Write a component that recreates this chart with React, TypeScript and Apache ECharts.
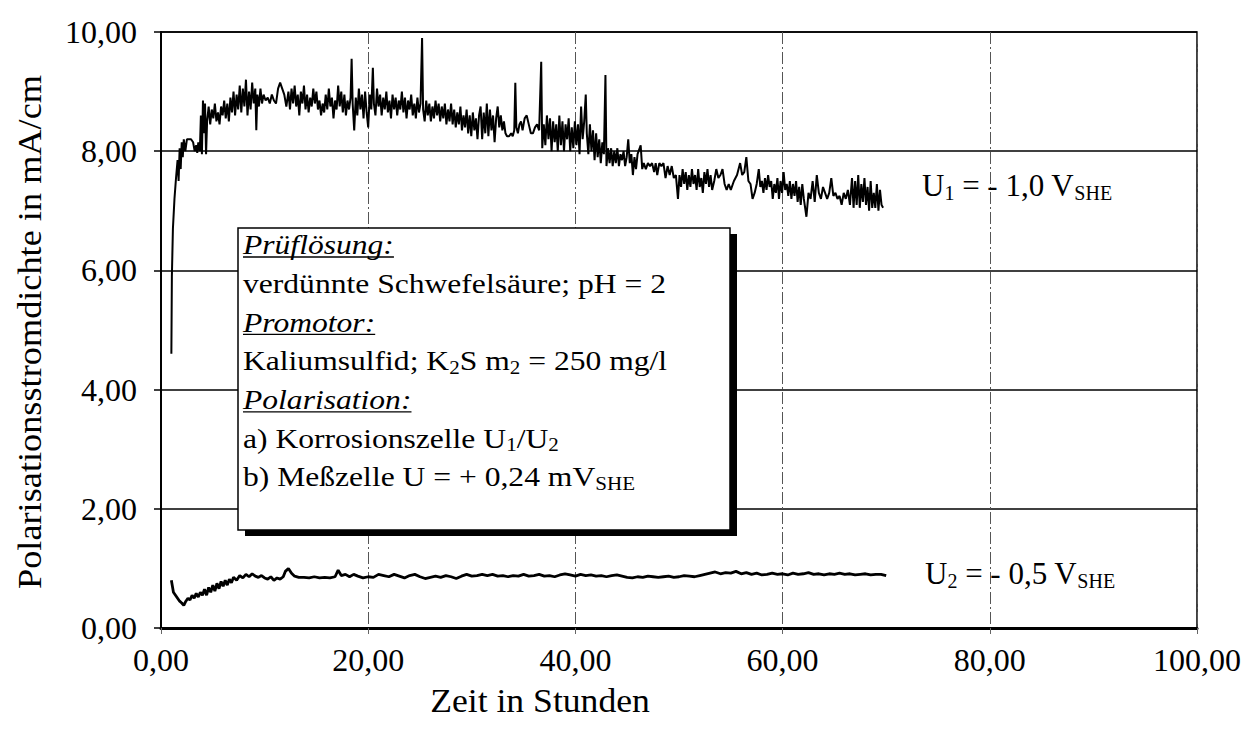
import React, { useEffect, useRef } from 'react';
import * as echarts from 'echarts';

const SERIF = 'Liberation Serif';

const xTickValues = [0, 20, 40, 60, 80, 100];
const yTickValues = [0, 2, 4, 6, 8, 10];

// U1 = -1,0 V_SHE  [Zeit in Stunden, Polarisationsstromdichte]
const u1Points: [number, number][] = [
  [1.0, 4.6], [1.05, 5.9], [1.15, 6.7], [1.3, 7.2], [1.45, 7.55], [1.6, 7.85], [1.7, 7.5], [1.8, 8.05], [1.9, 7.7],
  [2.0, 8.15], [2.1, 7.9], [2.2, 8.2], [2.35, 8.0], [2.5, 8.2], [2.7, 8.2], [2.9, 8.2], [3.1, 8.15], [3.25, 8.0],
  [3.4, 8.1], [3.5, 7.97], [3.6, 8.15], [3.75, 8.0], [3.85, 8.6], [3.95, 7.95], [4.05, 8.85], [4.15, 8.3], [4.25, 8.8],
  [4.35, 7.95], [4.45, 8.5], [4.6, 8.75], [4.75, 8.45], [4.9, 8.7], [5.05, 8.55], [5.2, 8.8], [5.35, 8.5], [5.5, 8.65],
  [5.65, 8.45], [5.8, 8.75], [5.95, 8.6], [6.1, 8.85], [6.25, 8.55], [6.4, 8.8], [6.55, 8.5], [6.7, 8.9], [6.85, 8.65],
  [7.0, 9.0], [7.15, 8.6], [7.3, 8.95], [7.45, 8.7], [7.6, 9.1], [7.75, 8.65], [7.9, 9.05], [8.05, 8.75], [8.2, 9.2],
  [8.35, 8.6], [8.5, 9.0], [8.65, 8.7], [8.8, 9.15], [8.95, 8.8], [9.1, 9.05], [9.2, 8.35], [9.3, 8.95], [9.45, 8.75],
  [9.6, 9.05], [9.75, 8.8], [9.9, 8.95], [10.1, 8.85], [10.3, 8.9], [10.5, 8.8], [10.7, 8.95], [10.9, 8.85], [11.1, 8.8],
  [11.3, 9.05], [11.5, 9.15], [11.7, 9.05], [11.9, 8.95], [12.1, 8.75], [12.3, 9.0], [12.45, 8.7], [12.6, 9.05],
  [12.75, 8.8], [12.9, 9.1], [13.05, 8.75], [13.2, 8.95], [13.35, 8.6], [13.5, 9.0], [13.65, 8.8], [13.8, 9.1],
  [13.95, 8.7], [14.1, 8.95], [14.25, 8.65], [14.4, 8.9], [14.55, 8.75], [14.7, 9.05], [14.85, 8.8], [15.0, 9.0],
  [15.15, 8.7], [15.3, 8.85], [15.45, 8.6], [15.6, 8.8], [15.75, 8.65], [15.9, 8.95], [16.05, 8.7], [16.2, 9.05],
  [16.35, 8.75], [16.5, 8.9], [16.65, 8.55], [16.8, 8.85], [16.95, 8.7], [17.1, 9.1], [17.25, 8.75], [17.4, 9.0],
  [17.55, 8.65], [17.7, 8.95], [17.85, 8.6], [18.0, 8.85], [18.15, 8.7], [18.3, 8.9], [18.4, 9.55], [18.5, 8.8],
  [18.65, 8.35], [18.8, 8.9], [18.95, 8.6], [19.1, 9.05], [19.25, 8.7], [19.4, 8.95], [19.55, 8.55], [19.7, 9.0],
  [19.85, 8.65], [20.0, 8.4], [20.15, 8.95], [20.3, 8.7], [20.45, 9.4], [20.55, 8.8], [20.7, 8.6], [20.85, 9.05],
  [21.0, 8.75], [21.15, 8.95], [21.3, 8.6], [21.45, 8.9], [21.6, 8.7], [21.75, 9.0], [21.9, 8.65], [22.05, 8.85],
  [22.2, 8.55], [22.35, 8.95], [22.5, 8.7], [22.65, 8.9], [22.8, 8.6], [22.95, 8.85], [23.1, 8.7], [23.25, 9.0],
  [23.4, 8.65], [23.55, 8.9], [23.7, 8.55], [23.85, 8.85], [24.0, 8.7], [24.15, 8.95], [24.3, 8.6], [24.45, 8.8],
  [24.6, 8.55], [24.75, 8.9], [24.9, 8.65], [25.05, 8.8], [25.2, 9.9], [25.3, 8.7], [25.45, 8.5], [25.6, 8.85],
  [25.75, 8.6], [25.9, 8.8], [26.05, 8.5], [26.2, 8.75], [26.35, 8.55], [26.5, 8.85], [26.65, 8.6], [26.8, 8.8],
  [26.95, 8.5], [27.1, 8.75], [27.25, 8.55], [27.4, 8.8], [27.55, 8.45], [27.7, 8.7], [27.85, 8.5], [28.0, 8.8],
  [28.15, 8.45], [28.3, 8.7], [28.45, 8.4], [28.6, 8.65], [28.75, 8.45], [28.9, 8.75], [29.05, 8.35], [29.2, 8.6],
  [29.35, 8.4], [29.5, 8.7], [29.65, 8.3], [29.8, 8.6], [29.95, 8.25], [30.1, 8.65], [30.25, 8.35], [30.4, 8.55],
  [30.55, 8.2], [30.7, 8.6], [30.85, 8.75], [31.0, 8.2], [31.15, 8.65], [31.3, 8.3], [31.45, 8.8], [31.6, 8.25],
  [31.75, 8.7], [31.9, 8.35], [32.05, 8.6], [32.2, 8.15], [32.35, 8.55], [32.5, 8.75], [32.65, 8.4], [32.8, 8.6],
  [32.95, 8.35], [33.1, 8.5], [33.25, 8.3], [33.4, 8.25], [33.6, 8.25], [33.8, 8.3], [33.95, 8.25], [34.1, 8.35],
  [34.2, 9.15], [34.3, 8.4], [34.45, 8.3], [34.6, 8.45], [34.75, 8.5], [34.9, 8.35], [35.1, 8.55], [35.3, 8.6],
  [35.5, 8.45], [35.7, 8.3], [35.9, 8.3], [36.1, 8.4], [36.3, 8.45], [36.5, 8.35], [36.7, 9.5], [36.8, 8.05],
  [36.95, 8.45], [37.1, 8.1], [37.25, 8.6], [37.4, 8.2], [37.55, 8.55], [37.7, 8.0], [37.85, 8.5], [38.0, 8.15],
  [38.15, 8.45], [38.3, 8.0], [38.45, 8.6], [38.6, 8.1], [38.75, 8.5], [38.9, 8.0], [39.05, 8.45], [39.2, 8.2],
  [39.35, 8.55], [39.5, 8.0], [39.65, 8.4], [39.8, 8.05], [39.95, 8.5], [40.1, 8.1], [40.25, 8.45], [40.4, 7.95],
  [40.55, 8.75], [40.7, 8.2], [40.85, 8.5], [41.0, 8.95], [41.1, 8.3], [41.25, 7.95], [41.4, 8.45], [41.55, 8.0],
  [41.7, 8.35], [41.85, 7.85], [42.0, 8.3], [42.15, 7.9], [42.3, 8.2], [42.45, 7.8], [42.6, 8.15], [42.75, 7.95],
  [42.9, 9.28], [43.0, 7.75], [43.15, 8.05], [43.3, 7.8], [43.45, 8.05], [43.6, 7.75], [43.75, 8.0], [43.9, 7.8],
  [44.05, 8.05], [44.2, 7.75], [44.35, 7.95], [44.5, 7.85], [44.65, 8.0], [44.8, 7.75], [44.95, 7.9], [45.1, 8.2],
  [45.25, 7.8], [45.4, 7.95], [45.55, 7.6], [45.7, 7.9], [45.85, 7.7], [46.0, 7.95], [46.3, 8.1], [46.45, 7.7],
  [46.6, 7.8], [46.8, 7.7], [47.0, 7.8], [47.2, 7.75], [47.4, 7.8], [47.6, 7.65], [47.75, 7.8], [47.9, 7.6],
  [48.1, 7.8], [48.3, 7.75], [48.5, 7.8], [48.7, 7.55], [48.9, 7.75], [49.1, 7.6], [49.3, 7.75], [49.5, 7.55],
  [49.7, 7.6], [49.9, 7.2], [50.05, 7.6], [50.2, 7.4], [50.35, 7.7], [50.5, 7.45], [50.65, 7.65], [50.8, 7.35],
  [50.95, 7.6], [51.1, 7.4], [51.25, 7.7], [51.4, 7.45], [51.55, 7.6], [51.7, 7.35], [51.85, 7.7], [52.0, 7.4],
  [52.15, 7.55], [52.3, 7.3], [52.45, 7.65], [52.6, 7.45], [52.75, 7.7], [52.9, 7.4], [53.05, 7.6], [53.2, 7.35],
  [53.4, 7.5], [53.6, 7.7], [53.8, 7.55], [54.0, 7.6], [54.2, 7.7], [54.4, 7.45], [54.6, 7.35], [54.8, 7.45],
  [55.0, 7.35], [55.3, 7.5], [55.6, 7.6], [55.9, 7.8], [56.1, 7.6], [56.3, 7.65], [56.5, 7.9], [56.7, 7.5],
  [56.9, 7.45], [57.1, 7.2], [57.3, 7.3], [57.5, 7.45], [57.7, 7.7], [57.85, 7.4], [58.0, 7.5], [58.15, 7.3],
  [58.3, 7.55], [58.45, 7.35], [58.6, 7.6], [58.75, 7.4], [58.9, 7.5], [59.05, 7.2], [59.2, 7.45], [59.35, 7.3],
  [59.5, 7.55], [59.65, 7.2], [59.8, 7.5], [59.95, 7.3], [60.1, 7.65], [60.25, 7.35], [60.4, 7.45], [60.55, 7.25],
  [60.7, 7.5], [60.85, 7.2], [61.0, 7.45], [61.15, 7.25], [61.3, 7.5], [61.45, 7.15], [61.6, 7.4], [61.75, 7.1],
  [61.9, 7.45], [62.05, 7.2], [62.3, 6.9], [62.5, 7.3], [62.7, 7.2], [62.9, 7.5], [63.1, 7.15], [63.3, 7.6],
  [63.5, 7.3], [63.7, 7.2], [63.9, 7.4], [64.1, 7.3], [64.3, 7.2], [64.5, 7.3], [64.7, 7.55], [64.9, 7.25],
  [65.1, 7.3], [65.3, 7.2], [65.5, 7.25], [65.7, 7.1], [65.9, 7.3], [66.1, 7.2], [66.3, 7.35], [66.5, 7.1],
  [66.7, 7.55], [66.85, 7.05], [67.0, 7.5], [67.15, 7.1], [67.3, 7.6], [67.45, 7.05], [67.6, 7.45], [67.75, 7.15],
  [67.9, 7.55], [68.05, 7.1], [68.2, 7.4], [68.35, 7.0], [68.5, 7.5], [68.65, 7.05], [68.8, 7.3], [68.95, 7.05],
  [69.1, 7.45], [69.25, 7.0], [69.4, 7.35], [69.55, 7.1], [69.7, 7.05],
];

// U2 = -0,5 V_SHE
const u2Points: [number, number][] = [
  [1.0, 0.8], [1.1, 0.7], [1.2, 0.6], [1.4, 0.55], [1.6, 0.5], [1.8, 0.45], [2.0, 0.42], [2.2, 0.38], [2.4, 0.45],
  [2.6, 0.5], [2.8, 0.47], [3.0, 0.55], [3.2, 0.5], [3.4, 0.58], [3.6, 0.52], [3.8, 0.6], [4.0, 0.55], [4.2, 0.65],
  [4.4, 0.55], [4.6, 0.68], [4.8, 0.6], [5.0, 0.72], [5.2, 0.62], [5.4, 0.75], [5.6, 0.66], [5.8, 0.78], [6.0, 0.7],
  [6.2, 0.8], [6.4, 0.72], [6.6, 0.82], [6.8, 0.76], [7.0, 0.85], [7.3, 0.8], [7.6, 0.88], [7.9, 0.84], [8.2, 0.9],
  [8.5, 0.86], [8.8, 0.91], [9.1, 0.87], [9.4, 0.85], [9.7, 0.88], [10.0, 0.84], [10.3, 0.82], [10.6, 0.86],
  [10.9, 0.8], [11.2, 0.84], [11.5, 0.82], [11.8, 0.86], [12.0, 0.95], [12.3, 1.0], [12.6, 0.92], [12.9, 0.87],
  [13.3, 0.85], [13.8, 0.85], [14.3, 0.84], [14.8, 0.86], [15.3, 0.84], [15.8, 0.85], [16.3, 0.84], [16.8, 0.86],
  [17.1, 0.97], [17.4, 0.88], [17.8, 0.9], [18.2, 0.86], [18.6, 0.9], [19.0, 0.87], [19.5, 0.84], [20.0, 0.86],
  [20.5, 0.85], [21.0, 0.9], [21.5, 0.88], [22.0, 0.86], [22.5, 0.9], [23.0, 0.87], [23.5, 0.84], [24.0, 0.88],
  [24.5, 0.9], [25.0, 0.86], [25.5, 0.83], [26.0, 0.85], [26.5, 0.87], [27.0, 0.85], [27.5, 0.88], [28.0, 0.86],
  [28.5, 0.83], [29.0, 0.87], [29.5, 0.9], [30.0, 0.87], [30.5, 0.88], [31.0, 0.9], [31.5, 0.88], [32.0, 0.9],
  [32.5, 0.87], [33.0, 0.88], [33.5, 0.86], [34.0, 0.88], [34.5, 0.87], [35.0, 0.9], [35.5, 0.87], [36.0, 0.88],
  [36.5, 0.9], [37.0, 0.87], [37.5, 0.88], [38.0, 0.86], [38.5, 0.89], [39.0, 0.91], [39.5, 0.89], [40.0, 0.87],
  [40.5, 0.9], [41.0, 0.88], [41.5, 0.89], [42.0, 0.87], [42.5, 0.88], [43.0, 0.86], [43.5, 0.88], [44.0, 0.89],
  [44.5, 0.87], [45.0, 0.85], [45.5, 0.84], [46.0, 0.86], [46.5, 0.85], [47.0, 0.87], [47.5, 0.86], [48.0, 0.85],
  [48.5, 0.86], [49.0, 0.87], [49.5, 0.85], [50.0, 0.86], [50.5, 0.88], [51.0, 0.87], [51.5, 0.86], [52.0, 0.88],
  [52.5, 0.9], [53.0, 0.92], [53.5, 0.94], [54.0, 0.91], [54.5, 0.93], [55.0, 0.92], [55.5, 0.95], [56.0, 0.91],
  [56.5, 0.93], [57.0, 0.9], [57.5, 0.92], [58.0, 0.89], [58.5, 0.9], [59.0, 0.92], [59.5, 0.9], [60.0, 0.91],
  [60.5, 0.89], [61.0, 0.92], [61.5, 0.9], [62.0, 0.91], [62.5, 0.93], [63.0, 0.9], [63.5, 0.91], [64.0, 0.89],
  [64.5, 0.91], [65.0, 0.9], [65.5, 0.92], [66.0, 0.9], [66.5, 0.91], [67.0, 0.89], [67.5, 0.9], [68.0, 0.91],
  [68.5, 0.89], [69.0, 0.9], [69.5, 0.9], [70.0, 0.88],
];

const xAxisTitle = 'Zeit in Stunden';
const yAxisTitle = 'Polarisationsstromdichte in mA/cm';

const fmt = (v: number) => v.toFixed(2).replace('.', ',');

const TICK_FS = 32;
const BOX_FS = 27;
const BOX_SCALE = 1.17;
const SUB_FS = 18;
const TITLE_FS = 33;

export default function App() {
  const ref = useRef<HTMLDivElement>(null);

  useEffect(() => {
    if (!ref.current) return;
    const chart = echarts.init(ref.current, null, { renderer: 'svg' });

    const ctx = document.createElement('canvas').getContext('2d')!;
    ctx.font = `italic ${BOX_FS}px "Liberation Serif"`;
    const wItal = (s: string) => ctx.measureText(s).width * BOX_SCALE;

    const boxX = 238;
    const boxY = 228;
    const boxW = 492;
    const boxH = 302;
    const textX = 243;
    const lineStep = 38.7;
    const firstLine = 245;

    const rich = {
      n: { fontSize: BOX_FS, fontFamily: SERIF, color: '#000' },
      s: { fontSize: SUB_FS, fontFamily: SERIF, color: '#000', padding: [14, 0, 0, 0], lineHeight: 20 },
    };
    const annRich = {
      n: { fontSize: 31, fontFamily: SERIF, color: '#000' },
      s: { fontSize: 20, fontFamily: SERIF, color: '#000', padding: [16, 0, 0, 0], lineHeight: 20 },
    };

    const boxLines: { text: string; italic?: boolean }[] = [
      { text: 'Prüflösung:', italic: true },
      { text: '{n|verdünnte Schwefelsäure; pH = 2}' },
      { text: 'Promotor:', italic: true },
      { text: '{n|Kaliumsulfid; K}{s|2}{n|S m}{s|2}{n| = 250 mg/l}' },
      { text: 'Polarisation:', italic: true },
      { text: '{n|a) Korrosionszelle U}{s|1}{n|/U}{s|2}' },
      { text: '{n|b) Meßzelle U = + 0,24 mV}{s|SHE}' },
    ];

    const boxElements: any[] = [];
    boxLines.forEach((ln, i) => {
      const cy = firstLine + i * lineStep;
      if (ln.italic) {
        boxElements.push({
          type: 'text',
          x: textX,
          y: cy,
          scaleX: BOX_SCALE,
          z: 102,
          style: {
            text: ln.text,
            fontSize: BOX_FS,
            fontFamily: SERIF,
            fontStyle: 'italic',
            fill: '#000',
            textAlign: 'left',
            textVerticalAlign: 'middle',
          },
        });
        boxElements.push({
          type: 'line',
          z: 102,
          shape: { x1: textX, y1: cy + 12, x2: textX + wItal(ln.text), y2: cy + 12 },
          style: { stroke: '#000', lineWidth: 1.3 },
        });
      } else {
        boxElements.push({
          type: 'text',
          x: textX,
          y: cy,
          scaleX: BOX_SCALE,
          z: 102,
          style: {
            text: ln.text,
            rich,
            fill: '#000',
            textAlign: 'left',
            textVerticalAlign: 'middle',
          },
        });
      }
    });

    const option: any = {
      animation: false,
      backgroundColor: '#fff',
      grid: {
        left: 161,
        right: 52,
        top: 32,
        bottom: 105,
        show: true,
        borderColor: '#000',
        borderWidth: 1.5,
        backgroundColor: 'transparent',
      },
      xAxis: {
        type: 'value',
        min: xTickValues[0],
        max: xTickValues[xTickValues.length - 1],
        interval: 20,
        axisLine: { show: true, onZero: false, lineStyle: { color: '#000', width: 3 } },
        axisTick: { show: true, length: 6, lineStyle: { color: '#666', width: 1 } },
        axisLabel: {
          formatter: fmt,
          color: '#000',
          fontFamily: SERIF,
          fontSize: TICK_FS,
          margin: 16,
        },
        splitLine: { show: true, lineStyle: { color: '#555', width: 1, type: [12, 3, 2, 3] } },
      },
      yAxis: {
        type: 'value',
        min: yTickValues[0],
        max: yTickValues[yTickValues.length - 1],
        interval: 2,
        axisLine: { show: true, lineStyle: { color: '#000', width: 2 } },
        axisTick: { show: true, length: 7, lineStyle: { color: '#000', width: 1.5 } },
        axisLabel: {
          formatter: fmt,
          color: '#000',
          fontFamily: SERIF,
          fontSize: TICK_FS,
          margin: 24,
        },
        splitLine: { show: true, lineStyle: { color: '#000', width: 1.5 } },
      },
      series: [
        {
          name: 'U1',
          type: 'line',
          data: u1Points,
          showSymbol: false,
          symbol: 'none',
          lineStyle: { color: '#000', width: 2 },
          z: 5,
        },
        {
          name: 'U2',
          type: 'line',
          data: u2Points,
          showSymbol: false,
          symbol: 'none',
          lineStyle: { color: '#000', width: 2.8 },
          z: 5,
        },
      ],
      graphic: [
        {
          type: 'rect',
          z: 100,
          shape: { x: boxX + 7, y: boxY + 6, width: boxW, height: boxH },
          style: { fill: '#000' },
        },
        {
          type: 'rect',
          z: 101,
          shape: { x: boxX, y: boxY, width: boxW, height: boxH },
          style: { fill: '#fff', stroke: '#000', lineWidth: 1.5 },
        },
        ...boxElements,
        {
          type: 'text',
          x: 922,
          y: 185,
          z: 102,
          style: {
            text: '{n|U}{s|1}{n| = - 1,0 V}{s|SHE}',
            rich: annRich,
            textAlign: 'left',
            textVerticalAlign: 'middle',
          },
        },
        {
          type: 'text',
          x: 925,
          y: 573,
          z: 102,
          style: {
            text: '{n|U}{s|2}{n| = - 0,5 V}{s|SHE}',
            rich: annRich,
            textAlign: 'left',
            textVerticalAlign: 'middle',
          },
        },
        {
          type: 'text',
          x: 540,
          y: 700,
          scaleX: 1.08,
          z: 102,
          style: {
            text: xAxisTitle,
            fontSize: TITLE_FS,
            fontFamily: SERIF,
            fill: '#000',
            textAlign: 'center',
            textVerticalAlign: 'middle',
          },
        },
        {
          type: 'text',
          x: 30,
          y: 332,
          rotation: Math.PI / 2,
          scaleX: 1.1,
          z: 102,
          style: {
            text: yAxisTitle,
            fontSize: TITLE_FS,
            fontFamily: SERIF,
            fill: '#000',
            textAlign: 'center',
            textVerticalAlign: 'middle',
          },
        },
      ],
    };

    chart.setOption(option);
    return () => chart.dispose();
  }, []);

  return (
    <div
      ref={ref}
      style={{ position: 'fixed', left: 0, top: 0, width: 1249, height: 733, background: '#fff' }}
    />
  );
}
